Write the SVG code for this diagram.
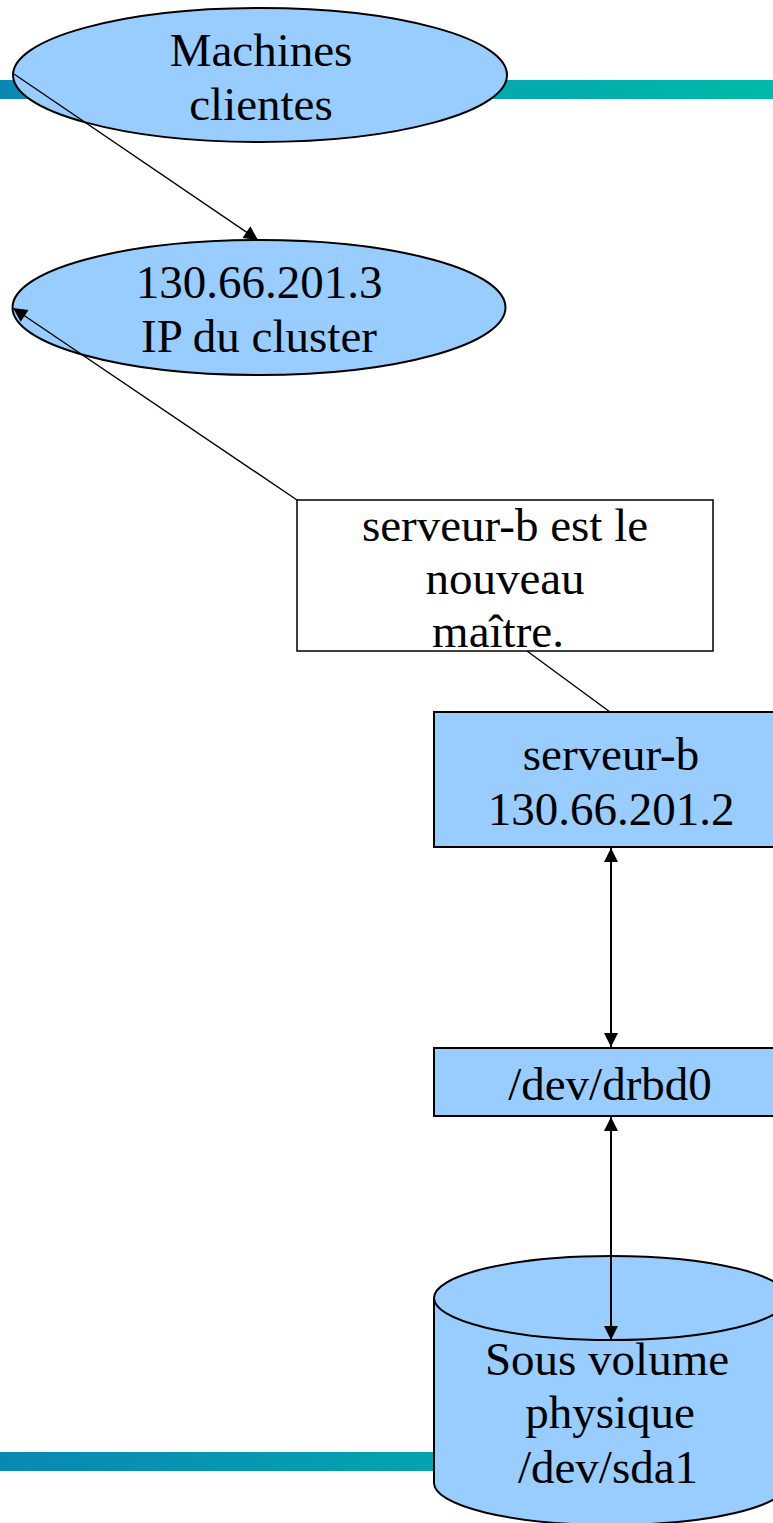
<svg xmlns="http://www.w3.org/2000/svg" width="773" height="1523" viewBox="0 0 773 1523">
  <style>
    .shape { fill: #99ccff; stroke: #000; stroke-width: 2; }
    .note { fill: #fff; stroke: #000; stroke-width: 1.5; }
    .lbl { font-family: "Liberation Serif", "Times New Roman", serif; font-size: 47px; fill: #000; text-anchor: middle; }
    .link { fill: none; stroke: #000; stroke-width: 1.4; }
    .link2 { fill: none; stroke: #000; stroke-width: 2; }
  </style>
  <defs>
    <linearGradient id="band" gradientUnits="userSpaceOnUse" x1="0" y1="0" x2="773" y2="0">
      <stop offset="0" stop-color="#0a88b4"/>
      <stop offset="1" stop-color="#00baa8"/>
    </linearGradient>
    <marker id="head" viewBox="0 0 10 10" refX="10" refY="5" markerUnits="userSpaceOnUse" markerWidth="15" markerHeight="14" orient="auto-start-reverse">
      <path d="M0,0 L10,5 L0,10 z" fill="#000"/>
    </marker>
  </defs>

  <!-- decorative bands -->
  <rect x="0" y="80" width="773" height="19" fill="url(#band)"/>
  <rect x="0" y="1452" width="440" height="19" fill="url(#band)"/>

  <g id="clients">
    <ellipse class="shape" cx="260" cy="75" rx="247" ry="67"/>
    <text class="lbl" x="261" y="66">Machines</text>
    <text class="lbl" x="261" y="120">clientes</text>
  </g>

  <g id="cluster-ip">
    <ellipse class="shape" cx="259" cy="307.5" rx="246.5" ry="67.5"/>
    <text class="lbl" x="259" y="298">130.66.201.3</text>
    <text class="lbl" x="259" y="352">IP du cluster</text>
  </g>

  <g id="note">
    <rect class="note" x="297" y="500" width="416" height="151"/>
    <text class="lbl" x="505" y="541">serveur-b est le</text>
    <text class="lbl" x="505" y="594">nouveau</text>
    <text class="lbl" x="498" y="647">maître.</text>
  </g>

  <g id="serveur-b">
    <rect class="shape" x="434" y="712" width="355" height="135"/>
    <text class="lbl" x="611" y="770">serveur-b</text>
    <text class="lbl" x="611" y="825">130.66.201.2</text>
  </g>

  <g id="drbd0">
    <rect class="shape" x="434" y="1048" width="355" height="68"/>
    <text class="lbl" x="610" y="1100">/dev/drbd0</text>
  </g>

  <g id="sda1">
    <path class="shape" d="M434,1298 A177,42 0 0 1 788,1298 L788,1483 A177,42 0 0 1 434,1483 Z"/>
    <path class="shape" fill="none" d="M434,1298 A177,42 0 0 0 788,1298"/>
    <text class="lbl" x="607" y="1375">Sous volume</text>
    <text class="lbl" x="610" y="1428">physique</text>
    <text class="lbl" x="608" y="1483">/dev/sda1</text>
  </g>

  <g id="connectors">
    <line class="link" x1="14" y1="74" x2="258" y2="240" marker-end="url(#head)"/>
    <line class="link" x1="297" y1="500" x2="13" y2="308" marker-end="url(#head)"/>
    <line class="link" x1="527" y1="651" x2="610" y2="712"/>
    <line class="link2" x1="611" y1="848" x2="611" y2="1047" marker-start="url(#head)" marker-end="url(#head)"/>
    <line class="link2" x1="611" y1="1117" x2="611" y2="1340" marker-start="url(#head)" marker-end="url(#head)"/>
  </g>
</svg>
